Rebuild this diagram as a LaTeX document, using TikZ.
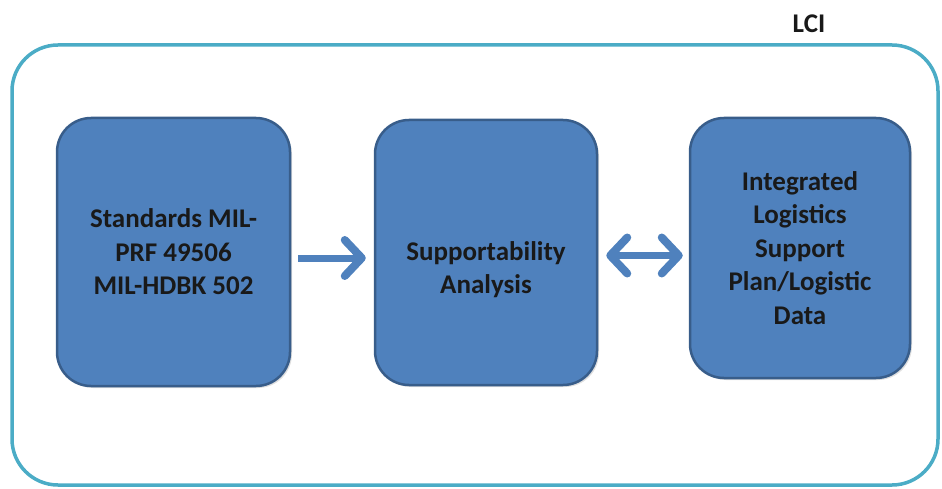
\documentclass[tikz,border=0pt]{standalone}
\usepackage{fontspec}
\setmainfont{Carlito}
\usetikzlibrary{arrows.meta, shadows}
\definecolor{boxfill}{HTML}{4F81BD}
\definecolor{boxline}{HTML}{385D8A}
\definecolor{frameline}{HTML}{4BACC6}

\begin{document}
\begin{tikzpicture}[x=1pt, y=-1pt,
                    my frame/.style={draw=frameline, line width=3.5pt,
                      rounded corners=46pt},
                    my text/.style={
                      align=center, text=black!90,
                      font=\fontsize{27}{33.5}\selectfont\bfseries},
                    my box/.style={
                      draw=boxline, fill=boxfill, line width=2.5pt,
                      rounded corners=34pt, my text,
                      drop shadow={opacity=0.25, shadow xshift=2pt,
                                   shadow yshift=-2pt}},
                    my tip/.tip={Straight Barb[length=17pt, width=36pt,
                                 line width=8pt 0, round]},
                    my arrow/.style={
                      draw=boxfill, line width=7pt, -{my tip}},
                    my double arrow/.style={
                      draw=boxfill, line width=7pt, {my tip}-{my tip}}]

\useasboundingbox (0,0) rectangle (942,489);

% outer frame
\draw[my frame] (12,45) rectangle (938,485);
\node[my text] (lci) at (809,24) {LCI};

% the three blocks
\node[my box, minimum width=233pt, minimum height=268pt] (std) at (173.5,252)
  {Standards MIL-\\PRF 49506\\MIL-HDBK 502};
\node[my box, minimum width=222pt, minimum height=265pt] (sa) at (486,252.5) {};
\node[my text] (sa text) at ([yshift=-17pt]sa.center)
  {Supportability\\Analysis};
\node[my box, minimum width=220pt, minimum height=260pt] (ilsp) at (800,248)
  {Integrated\\Logistics\\Support\\Plan/Logistic\\Data};

% connectors
\draw[my arrow, shorten <=7pt, shorten >=8pt]
  ([yshift=-6pt]std.east) -- ([yshift=-6pt]std.east -| sa.west);
\draw[my double arrow, shorten <=8pt, shorten >=6pt]
  ([yshift=-3pt]sa.east) -- ([yshift=-3pt]sa.east -| ilsp.west);
\end{tikzpicture}
\end{document}
